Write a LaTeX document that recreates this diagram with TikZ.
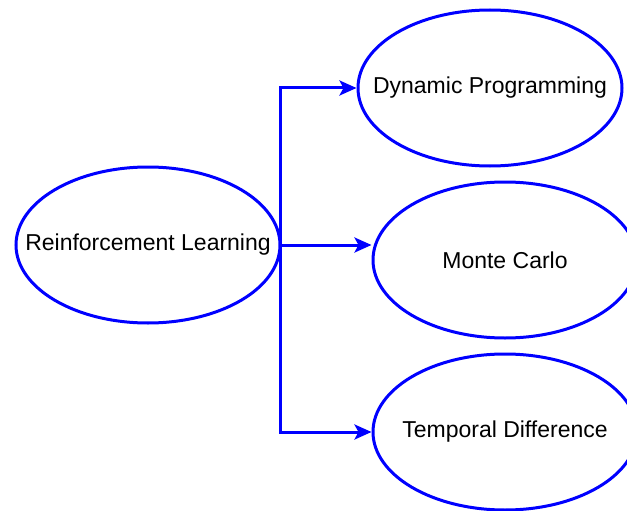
\documentclass[tikz,border=0pt]{standalone}
\usepackage{fontspec}
\setmainfont{Liberation Sans}
\usetikzlibrary{shapes.geometric,arrows.meta}
\begin{document}
\begin{tikzpicture}[x=1pt,y=-1pt]
\tikzstyle{method}=[ellipse,draw=blue,line width=3pt,minimum width=264pt,minimum height=156pt,inner sep=0pt,font=\fontsize{23}{27}\selectfont]
\tikzstyle{link}=[draw=blue,line width=3pt,-{Stealth[length=17pt,width=15pt,inset=4pt]}]
\useasboundingbox (0,0) rectangle (627,511);
\foreach \name/\point/\lbl in {
	rl/{148,245}/Reinforcement Learning,
	dp/{490,88}/Dynamic Programming,
	mc/{505,260}/Monte Carlo,
	td/{505,432}/Temporal Difference}
	\node[method] (\name) at (\point) {\makebox[0pt]{\lbl}};
\coordinate (split) at (280,245);
\draw[link] (rl.east) -- (split) |- (dp);
\draw[link] (split) -- (split -| mc.west);
\draw[link] (split) |- (td);
\end{tikzpicture}
\end{document}
